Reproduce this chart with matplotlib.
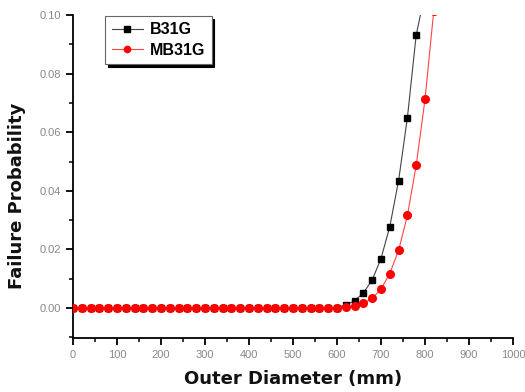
import numpy as np
import matplotlib.pyplot as plt
from matplotlib.ticker import MultipleLocator

plt.rcParams['font.family'] = ['Liberation Sans', 'DejaVu Sans']

# outer diameter (mm), sampled every 20 mm
d_b31g = list(range(0, 800, 20))
p_b31g = [0.0] * 30 + [0.0002, 0.0011, 0.0025, 0.0052, 0.0096, 0.0169,
                       0.0278, 0.0435, 0.065, 0.0932]
d_b31g_end = 790
p_b31g_end = 0.1003

d_mb31g = list(range(0, 840, 20))
p_mb31g = [0.0] * 31 + [0.0003, 0.0006, 0.0016, 0.0033, 0.0065, 0.0118,
                        0.0197, 0.0316, 0.0487, 0.0712, 0.1015]

fig = plt.figure(figsize=(5.25, 3.92), dpi=100)
ax = fig.add_axes([73/525, 1 - 338/392, 440/525, 323/392])

ax.plot(d_b31g + [d_b31g_end], p_b31g + [p_b31g_end], color='#444444', lw=0.8,
        zorder=2)
ax.plot(d_b31g, p_b31g, ls='none', marker='s', color='black', ms=5, zorder=3)
ax.plot(d_mb31g, p_mb31g, color='#ff4444', lw=0.8, marker='o', ms=5.5,
        mfc='red', mec='red', zorder=4)

# legend proxies
h1, = ax.plot([], [], color='#444444', lw=0.8, marker='s', mfc='black',
              mec='black', ms=4)
h2, = ax.plot([], [], color='#ff4444', lw=0.8, marker='o', mfc='red',
              mec='red', ms=4.5)
leg = ax.legend([h1, h2], ['B31G', 'MB31G'], loc='upper left',
                bbox_to_anchor=(0.073, 0.997), borderaxespad=0, fancybox=False,
                shadow={'color': 'black', 'alpha': 1}, framealpha=1,
                edgecolor='#666666', prop={'weight': 'bold', 'size': 11.5},
                handlelength=2.0, handletextpad=0.4, labelspacing=0.35,
                borderpad=0.4)
leg.get_frame().set_linewidth(0.8)

ax.set_xlim(0, 1000)
ax.set_ylim(-0.0102, 0.10)
ax.xaxis.set_major_locator(MultipleLocator(100))
ax.xaxis.set_minor_locator(MultipleLocator(50))
ax.yaxis.set_minor_locator(MultipleLocator(0.01))
ax.set_yticks(np.arange(0, 0.101, 0.02))
ax.set_yticklabels(['%.2f' % v for v in np.arange(0, 0.101, 0.02)])

for s in ['top', 'right']:
    ax.spines[s].set_visible(False)
for s in ['left', 'bottom']:
    ax.spines[s].set_linewidth(1.3)
ax.tick_params(which='major', direction='out', length=5, width=1.3,
               labelsize=8, labelcolor='#888888')
ax.tick_params(which='minor', direction='out', length=3, width=1.1)

ax.set_xlabel('Outer Diameter (mm)', fontsize=13, fontweight='bold',
              family='DejaVu Sans', color='#111111')
ax.set_ylabel('Failure Probability', fontsize=13, fontweight='bold',
              family='DejaVu Sans', color='#111111')
ax.xaxis.set_label_coords(0.5, -0.1)
ax.yaxis.set_label_coords(-0.127, 0.44)
ax.yaxis.label.set_va('center')

fig.savefig('out.png', dpi=100)
